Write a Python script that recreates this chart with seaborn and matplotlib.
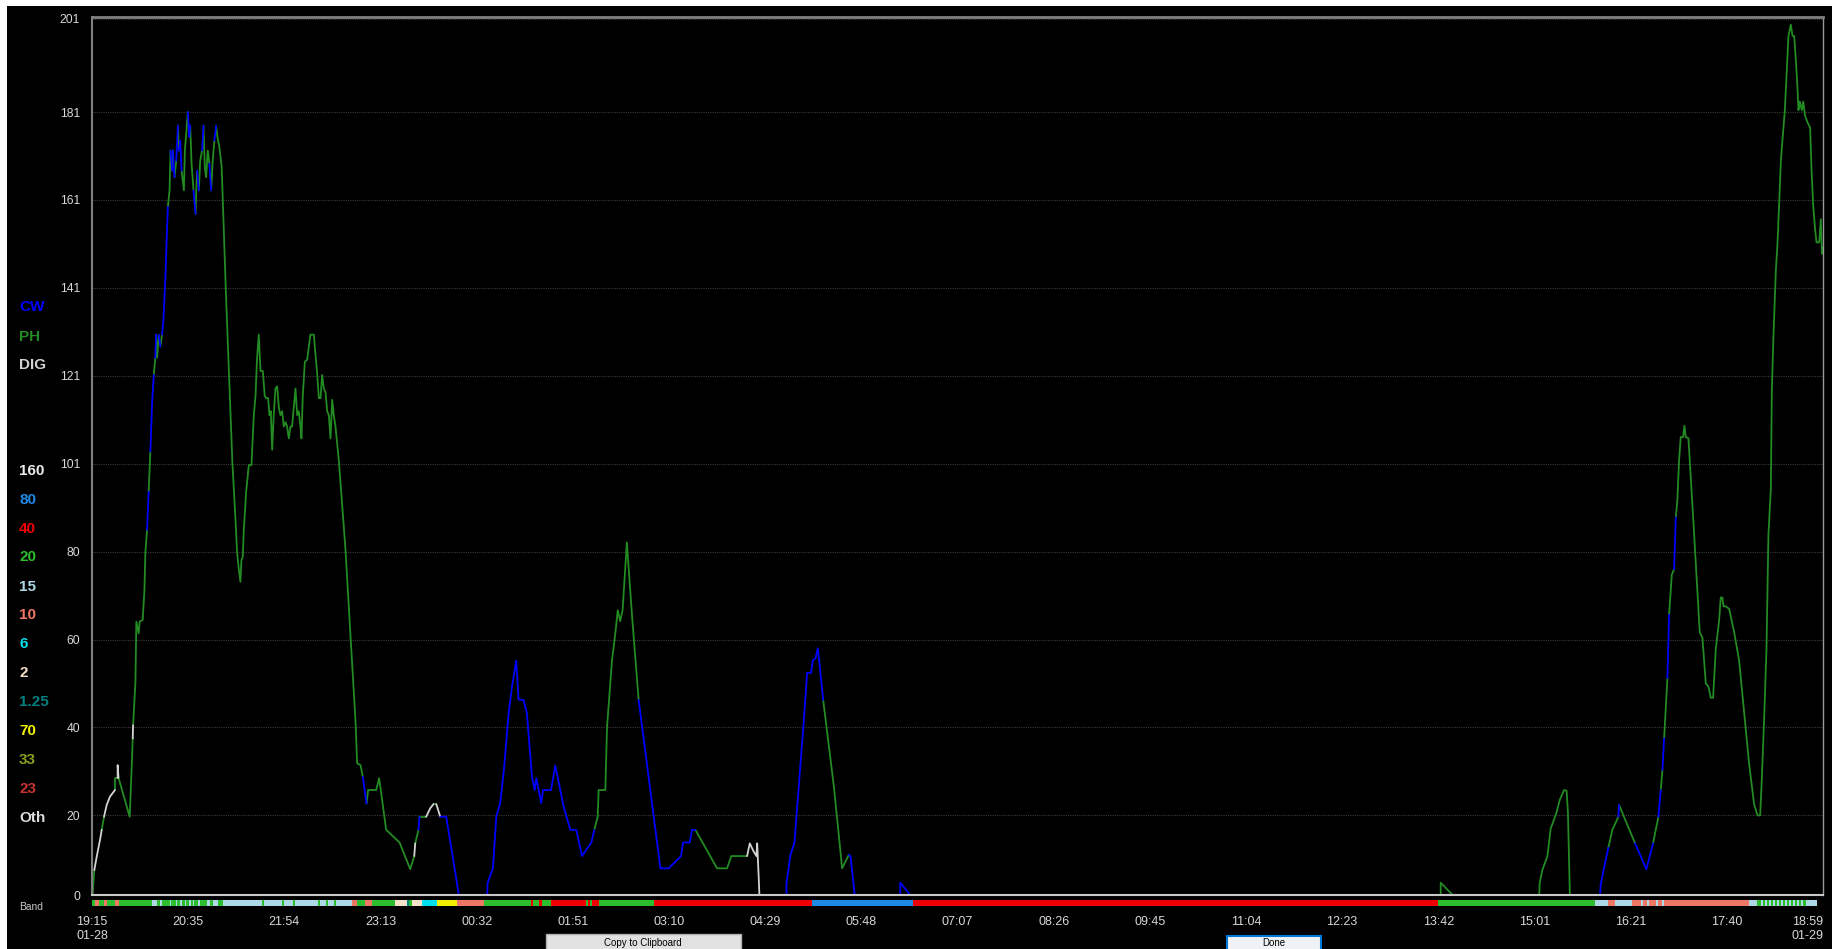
import numpy as np
import pandas as pd
import matplotlib
matplotlib.use("Agg")
import matplotlib.pyplot as plt
from matplotlib.patches import Rectangle
import seaborn as sns

# -------------------------------
# Data (minutes after 19:15 on 01-28, spot count, mode of segment)
# P = PH, C = CW, D = DIG
# -------------------------------
hump_t = [0.0, 1.9, 3.9, 6.6, 8.0, 9.9, 12.1, 14.8, 18.9, 18.9,
          21.1, 21.1, 21.8, 31.0, 32.9, 33.5, 33.8, 35.7, 36.5, 38.4,
          39.2, 41.7, 43.1, 43.9, 45.3, 46.6, 48.0, 49.4, 50.8, 52.1,
          52.7, 53.5, 54.9, 56.3, 57.6, 58.7, 60.5, 61.6, 62.4, 63.8,
          64.6, 66.0, 66.5, 67.9, 69.3, 70.7, 71.5, 72.6, 73.7, 75.6,
          76.4, 78.9, 80.0, 80.8, 81.9, 83.5, 85.2, 85.7, 86.5, 87.9,
          89.0, 90.6, 91.7, 92.8, 93.9, 95.2, 96.6, 98.0, 99.3, 100.7,
          102.1, 103.2, 104.8, 106.7, 107.6, 110.2, 112.8, 115.5, 118.0, 119.4,
          120.7, 122.1, 122.9, 124.0, 124.9, 126.8, 129.0, 131.2, 133.1, 134.5,
          135.8, 137.2, 138.6, 140.5, 142.1, 143.2, 144.9, 146.0, 147.1, 148.2,
          149.5, 150.9, 152.3, 153.7, 155.0, 156.4, 157.8, 159.2, 160.5, 161.9,
          163.3, 164.6, 166.0, 167.4, 168.8, 170.1, 171.5, 172.3, 173.4, 175.1,
          177.0, 178.4, 179.7, 182.5, 183.8, 185.2, 186.6, 188.0, 189.3, 190.7,
          192.1, 193.5, 194.8, 196.2, 197.6, 198.9, 200.3, 203.1, 208.5, 212.7,
          216.8, 218.1, 220.9, 222.8, 225.8, 227.2, 233.8, 236.2, 242.0, 253.0,
          261.8, 265.1, 265.9, 268.6, 269.4, 274.9, 278.2, 281.0, 283.2, 286.5,
          291.4, 302.9, 324.9]
hump_v = [0, 7.6, 10.7, 14.5, 16.8, 19.8, 22.5, 24.4, 25.9, 28.7,
          28.7, 31.6, 28.7, 19.8, 32.9, 37.7, 40.7, 50.4, 64.4, 61.7,
          64.4, 64.8, 71.4, 80.1, 85.4, 94.1, 103.3, 114.2, 120.8, 124.7,
          130.0, 124.7, 130.0, 127.3, 130.0, 133.2, 143.9, 153.1, 159.2, 163.0,
          172.1, 167.5, 172.1, 166.0, 169.8, 177.8, 172.1, 174.4, 167.5, 163.0,
          172.1, 180.9, 175.2, 177.8, 169.1, 163.0, 157.6, 162.2, 167.5, 163.0,
          169.8, 172.1, 177.8, 168.3, 166.0, 172.1, 169.1, 163.0, 169.8, 174.4,
          177.8, 175.2, 172.9, 168.3, 160.7, 139.3, 120.3, 100.7, 88.0, 80.1,
          76.6, 73.5, 78.4, 79.2, 85.4, 94.1, 100.2, 100.2, 111.6, 116.0,
          124.7, 130.0, 121.7, 121.7, 116.0, 115.5, 115.5, 111.6, 112.5, 103.7,
          111.6, 117.7, 118.2, 113.4, 111.6, 112.5, 109.0, 110.0, 109.0, 106.3,
          109.0, 109.0, 113.4, 117.7, 111.6, 112.5, 109.0, 106.3, 116.0, 123.8,
          124.3, 127.3, 130.0, 130.0, 125.6, 121.2, 115.5, 115.5, 120.8, 117.7,
          116.8, 112.5, 111.6, 106.3, 115.1, 111.6, 109.0, 101.1, 81.0, 60.9,
          41.6, 32.0, 31.6, 28.9, 22.8, 25.9, 25.9, 28.6, 16.8, 13.9,
          7.8, 10.8, 13.7, 16.8, 19.8, 19.8, 21.7, 22.7, 22.7, 19.8,
          19.8, 0, 0]
hump_m = ("PPDDDPDDDP" "PDDPPPDPPP" "PPPPPCPCCP" "CPPCPCCCCP" "PCPCPCPCCP"
          "PPCCPPCPPC" "PPCPPPPCPP" "CPPPPPPPPP" "PPPPPPPPPP" "PPPPPPPPPP"
          "PPPPPPPPPP" "PPPPPPPPPP" "PPPPPPPPPP" "PPPPPPPPPP" "PPPPCPPPPP"
          "PPDPCPDDPD" "CCC")

mid_t = [325.4, 329.8, 332.6, 335.8, 339.1, 342.7, 345.5, 349.0, 350.9, 355.0,
         357.8, 361.9, 364.1, 365.5, 367.4, 369.6, 371.0, 377.6, 381.1, 388.0,
         393.5, 398.4, 403.1, 410.8, 413.2, 416.0, 416.8, 422.3, 423.7, 427.8,
         430.5, 432.5, 434.5, 436.5, 440.0, 444.5, 449.7, 467.6, 474.4, 484.6,
         486.2, 491.7, 493.6, 496.4, 514.2, 522.4, 526.0, 538.9, 541.1, 544.4,
         546.6, 547.2, 548.5, 549.3, 571.3, 571.3, 574.6, 577.9, 581.4, 585.6,
         588.3, 591.6, 593.0, 595.2, 597.1, 601.5, 610.3, 617.1, 622.6, 624.0,
         628.1, 664.9, 664.9, 678.6]
mid_v = [4.6, 8.0, 19.8, 22.9, 31.2, 43.4, 49.5, 55.5, 46.6, 46.5,
         43.4, 29.0, 25.9, 28.6, 25.9, 22.9, 25.9, 25.9, 31.5, 22.1,
         16.8, 16.8, 10.8, 13.9, 16.8, 19.8, 25.9, 25.9, 40.4, 55.6,
         61.7, 67.0, 64.5, 67.0, 82.5, 64.8, 46.5, 8.0, 8.0, 10.8,
         13.9, 13.9, 16.8, 16.8, 8.0, 8.0, 10.8, 10.8, 13.7, 11.8,
         10.8, 13.7, 5.7, 0, 0, 4.6, 11.1, 13.9, 26.7, 41.9,
         52.7, 52.7, 55.6, 56.0, 58.3, 46.5, 26.7, 8.0, 11.1, 10.8,
         0, 0, 4.7, 0]
mid_m = ("CCCCCCCCCC" "CCCCCCCCCC" "CCCCCPPPPP" "PPPPPPPCCC" "CCCCPPPPDD"
         "DDDDCCCCCC" "CCCCCCPPPC" "CCCC")

late_t = [1109.5, 1109.5, 1126.0, 1190.4, 1190.9, 1193.1, 1197.2, 1200.0, 1204.6, 1207.4,
          1211.0, 1213.1, 1214.2, 1215.9, 1240.3, 1241.1, 1243.9, 1247.4, 1250.7, 1255.7,
          1256.2, 1269.4, 1278.7, 1284.2, 1288.6, 1290.5, 1291.9, 1293.3, 1296.0, 1297.4,
          1299.6, 1301.5, 1302.9, 1304.2, 1305.6, 1307.0, 1308.9, 1310.0, 1311.1, 1313.3,
          1315.2, 1318.0, 1320.7, 1322.6, 1324.8, 1327.6, 1329.7, 1331.7, 1333.6, 1335.8,
          1338.5, 1339.9, 1341.3, 1342.1, 1344.0, 1346.8, 1350.9, 1355.0, 1359.1, 1363.2,
          1367.3, 1370.1, 1372.3, 1373.7, 1375.6, 1377.5, 1379.1, 1381.1, 1381.9, 1383.3,
          1385.2, 1386.6, 1388.0, 1389.3, 1390.7, 1392.6, 1394.2, 1395.6, 1397.5, 1398.9,
          1400.3, 1401.6, 1403.0, 1403.8, 1404.9, 1406.6, 1407.7, 1409.3, 1411.2, 1413.4,
          1414.5, 1415.9, 1417.6, 1418.7, 1420.9, 1422.2, 1423.1, 1424.0]
late_v = [0, 4.7, 0, 0, 4.6, 7.6, 10.7, 17.1, 20.6, 23.6,
          25.9, 25.7, 20.6, 0, 0, 4.3, 8.1, 12.7, 16.8, 19.8,
          22.5, 13.7, 7.8, 13.7, 19.8, 25.9, 30.5, 37.7, 51.5, 66.0,
          75.1, 76.4, 88.2, 92.2, 101.3, 106.6, 106.6, 109.2, 106.6, 106.3,
          97.4, 84.3, 71.2, 62.0, 60.7, 50.2, 49.6, 47.0, 47.0, 58.1,
          64.6, 69.9, 69.9, 67.9, 67.9, 67.3, 62.0, 55.5, 43.7, 31.9,
          22.7, 20.1, 20.1, 28.6, 42.4, 58.1, 84.3, 94.8, 117.1, 130.2,
          144.6, 151.1, 160.3, 169.5, 174.7, 181.3, 190.4, 198.3, 200.9, 198.3,
          198.3, 193.0, 186.5, 181.3, 183.3, 181.3, 183.3, 180.0, 178.6, 177.3,
          168.2, 159.6, 153.8, 151.1, 151.1, 156.4, 148.5, 150.0]
late_m = ("PPPPPPPPPP" "PPPPPCCCPP" "CPCCPCPCPC" "PPCPPPPPPP" "PPPPPPPPPP"
          "PPPPPPPPPP" "PPPPPPPPPP" "PPPPPPPPPP" "PPPPPPPPPP" "PPPPPPPP")

# band strip under the axis (start minute, band)
band_start = [0, 2.5, 6.0, 10.1, 12.1, 18.9, 22.2, 49.1, 53.3, 56.0,
              57.6, 64.2, 65.4, 69.1, 70.3, 72.4, 73.7, 76.5, 77.7, 79.8,
              81.1, 83.1, 84.3, 87.2, 88.5, 94.7, 97.1, 99.6, 103.7, 107.8,
              139.9, 141.2, 156.4, 157.6, 165.4, 166.7, 186.0, 187.2, 192.6, 193.8,
              199.2, 200.4, 214.0, 218.1, 224.7, 230.5, 249.4, 259.3, 260.9, 263.4,
              271.6, 284.0, 300.4, 322.7, 361.3, 363.0, 367.5, 370.4, 377.8, 406.6,
              408.3, 409.9, 411.5, 417.3, 462.6, 592.6, 675.8, 1107.0, 1236.3, 1247.4,
              1252.8, 1266.7, 1274.6, 1276.2, 1279.1, 1280.7, 1286.5, 1288.1, 1291.4, 1293.1,
              1363.0, 1369.6, 1373.2, 1374.5, 1376.5, 1377.8, 1379.8, 1381.1, 1383.1, 1384.4,
              1386.4, 1387.7, 1389.7, 1391.0, 1393.0, 1394.3, 1396.3, 1397.6, 1399.6, 1400.9,
              1402.8, 1404.1, 1406.1, 1407.4, 1410.4]
band_name = ["20", "10", "20", "10", "20", "10", "20", "15", "20", "15",
             "20", "15", "20", "15", "20", "15", "20", "15", "20", "15",
             "20", "15", "20", "15", "20", "15", "20", "15", "20", "15",
             "20", "15", "20", "15", "20", "15", "20", "15", "20", "15",
             "20", "15", "10", "20", "10", "20", "2", "1.25", "20", "2",
             "6", "70", "10", "20", "40", "20", "40", "20", "40", "20",
             "40", "20", "40", "20", "40", "80", "40", "20", "15", "10",
             "15", "10", "15", "10", "15", "10", "15", "10", "15", "10",
             "15", "20", "15", "20", "15", "20", "15", "20", "15", "20",
             "15", "20", "15", "20", "15", "20", "15", "20", "15", "20",
             "15", "20", "15", "20", "15"]
band_end = 1419.4

x_labels = ["19:15\n01-28", "20:35", "21:54", "23:13", "00:32", "01:51", "03:10",
            "04:29", "05:48", "07:07", "08:26", "09:45", "11:04", "12:23", "13:42",
            "15:01", "16:21", "17:40", "18:59\n01-29"]
y_labels = ["0", "20", "40", "60", "80", "101", "121", "141", "161", "181", "201"]

mode_names = ["CW", "PH", "DIG"]
mode_colors = {"CW": "#0000FF", "PH": "#228B22", "DIG": "#D3D3D3"}
band_labels = ["160", "80", "40", "20", "15", "10", "6", "2", "1.25", "70", "33", "23", "Oth"]
band_colors = {"160": "#EBEBEB", "80": "#1E88E5", "40": "#F00000", "20": "#2DBE2D",
               "15": "#ADD8E6", "10": "#EE7766", "6": "#00E0EE", "2": "#F5E1C8",
               "1.25": "#008080", "70": "#F0F000", "33": "#8AA020", "23": "#C83232",
               "Oth": "#DCDCDC"}

assert len(hump_t) == len(hump_v) == len(hump_m)
assert len(mid_t) == len(mid_v) == len(mid_m)
assert len(late_t) == len(late_v) == len(late_m)
assert len(band_start) == len(band_name)

# -------------------------------
# Build runs of constant mode
# -------------------------------
code = {"P": "PH", "C": "CW", "D": "DIG"}
t_all = hump_t + mid_t + late_t
v_all = hump_v + mid_v + late_v
m_all = [code[c] for c in hump_m + mid_m + late_m]

rows = []
run = 0
for i in range(1, len(t_all)):
    if i == 1 or m_all[i] != m_all[i - 1]:
        run += 1
        rows.append((t_all[i - 1], v_all[i - 1], m_all[i], run))
    rows.append((t_all[i], v_all[i], m_all[i], run))
df = pd.DataFrame(rows, columns=["t", "v", "mode", "run"])

# -------------------------------
# Figure
# -------------------------------
W, H = 1832, 949
sns.set_theme(style="dark", rc={"axes.facecolor": "black", "figure.facecolor": "black"})
plt.rcParams["font.family"] = ["Liberation Sans", "DejaVu Sans"]


def fx(px):
    return px / W


def fy(py):
    return 1 - py / H


fig = plt.figure(figsize=(W / 100, H / 100), dpi=100, facecolor="black")
ax = fig.add_axes([fx(92), fy(895), fx(1823) - fx(92), fy(16.7) - fy(895)])
ax.set_facecolor("black")

sns.lineplot(data=df, x="t", y="v", hue="mode", units="run", estimator=None,
             sort=False, palette=mode_colors, linewidth=1.3, legend=False, ax=ax)

t_end = 1424
y_bottom, y_top = 1.9, 202.7
ax.set_xlim(0, t_end)
ax.set_ylim(y_bottom, y_top)
ax.set_xlabel("")
ax.set_ylabel("")

yt = [y_bottom] + [20.1 * k for k in range(1, 10)] + [202.2]
ax.set_yticks(yt)
ax.set_yticklabels(y_labels)
ax.set_xticks(np.linspace(0, t_end, len(x_labels)))
ax.set_xticklabels(x_labels)
ax.get_xticklabels()[-1].set_ha("right")

ax.tick_params(axis="y", length=0, pad=8.5, labelsize=8.7, labelcolor="#D8D8D8")
ax.tick_params(axis="x", length=0, pad=15, labelsize=9, labelcolor="#D8D8D8")
ax.grid(axis="y", color="#3A3A3A", linestyle=(0, (1, 1)), linewidth=0.8)
ax.grid(axis="x", visible=False)
ax.set_axisbelow(True)

ax.spines["left"].set_color("#7F7F7F")
ax.spines["left"].set_linewidth(1.5)
ax.spines["bottom"].set_color("#C8C8C8")
ax.spines["bottom"].set_linewidth(1.5)
ax.spines["top"].set_color("#808080")
ax.spines["top"].set_linewidth(2)
ax.spines["right"].set_color("#9A9A9A")
ax.spines["right"].set_linewidth(1)

# band strip
bax = fig.add_axes([fx(92), fy(906), fx(1823) - fx(92), fy(900) - fy(906)])
ends = band_start[1:] + [band_end]
widths = [e - s for s, e in zip(band_start, ends)]
bax.bar(band_start, 1, width=widths, bottom=0, align="edge",
        color=[band_colors[b] for b in band_name], linewidth=0)
bax.set_xlim(0, t_end)
bax.set_ylim(0, 1)
bax.axis("off")

# left legend
legend_y = [307, 337, 365]
for name, y in zip(mode_names, legend_y):
    fig.text(fx(19), fy(y), name, color=mode_colors[name], fontsize=11,
             fontweight="bold", va="center", ha="left")
band_y = [471, 500, 529, 557, 587, 615, 644, 673, 702, 731, 760, 789, 818]
for name, y in zip(band_labels, band_y):
    fig.text(fx(19), fy(y), name, color=band_colors[name], fontsize=11,
             fontweight="bold", va="center", ha="left")
fig.text(fx(19), fy(907), "Band", color="#C8C8C8", fontsize=7.4, va="center", ha="left")

# window frame bits and buttons (buttons run off the bottom edge)
fig.patches.append(Rectangle((0, fy(6)), 1, 6 / H, transform=fig.transFigure,
                             facecolor="white", edgecolor="none", zorder=5))
fig.patches.append(Rectangle((0, 0), 7 / W, 1, transform=fig.transFigure,
                             facecolor="white", edgecolor="none", zorder=5))
fig.patches.append(Rectangle((fx(546), fy(960)), fx(741) - fx(546), fy(934) - fy(960),
                             transform=fig.transFigure, facecolor="#E1E1E1",
                             edgecolor="#ADADAD", linewidth=1))
fig.text(fx(643), fy(948.5), "Copy to Clipboard", color="black", fontsize=7,
         va="bottom", ha="center")
fig.patches.append(Rectangle((fx(1227), fy(960)), fx(1321) - fx(1227), fy(936) - fy(960),
                             transform=fig.transFigure, facecolor="#EEF2F6",
                             edgecolor="#0078D7", linewidth=1.5))
fig.text(fx(1274), fy(948.5), "Done", color="black", fontsize=7, va="bottom", ha="center")

fig.savefig("out.png", dpi=100, facecolor="black")
